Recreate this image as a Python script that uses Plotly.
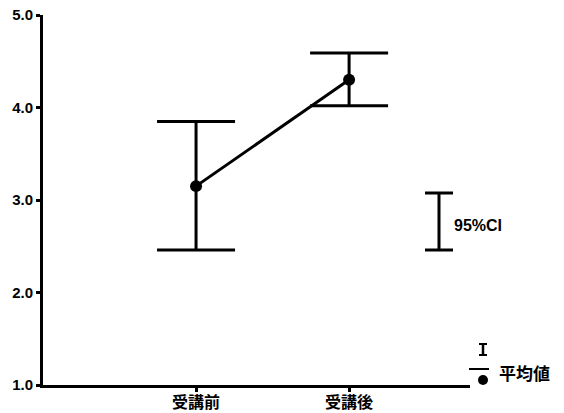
import plotly.graph_objects as go

categories = ["受講前", "受講後"]
x_pos = [0, 1]
means = [3.15, 4.30]
ci_lower = [2.46, 4.02]
ci_upper = [3.85, 4.59]
y_ticks = [1.0, 2.0, 3.0, 4.0, 5.0]
y_tick_labels = ["1.0", "2.0", "3.0", "4.0", "5.0"]

err_plus = [u - m for u, m in zip(ci_upper, means)]
err_minus = [m - l for m, l in zip(means, ci_lower)]

fig = go.Figure()
fig.add_trace(go.Scatter(
    x=x_pos, y=means, mode="lines+markers",
    line=dict(color="black", width=3),
    marker=dict(color="black", size=12),
    error_y=dict(type="data", array=err_plus, arrayminus=err_minus,
                 color="black", thickness=3, width=39, visible=True),
    showlegend=False, cliponaxis=False,
))

L, R, T, B = 43, 94, 15, 28
W, H = 564, 413
pw, ph = W - L - R, H - T - B

def px(x):
    return (x - L) / pw

def py(y):
    return (H - B - y) / ph

shapes = []
line = dict(color="black", width=3)
# 95%CI legend glyph
shapes.append(dict(type="line", xref="paper", yref="paper", x0=px(439), x1=px(439), y0=py(193), y1=py(250), line=line))
shapes.append(dict(type="line", xref="paper", yref="paper", x0=px(425), x1=px(453), y0=py(193), y1=py(193), line=line))
shapes.append(dict(type="line", xref="paper", yref="paper", x0=px(425), x1=px(453), y0=py(250), y1=py(250), line=line))
# mean legend glyph
shapes.append(dict(type="line", xref="paper", yref="paper", x0=px(483), x1=px(483), y0=py(344), y1=py(355), line=dict(color="black", width=2.5)))
shapes.append(dict(type="line", xref="paper", yref="paper", x0=px(479), x1=px(487), y0=py(344), y1=py(344), line=dict(color="black", width=2)))
shapes.append(dict(type="line", xref="paper", yref="paper", x0=px(479), x1=px(487), y0=py(355), y1=py(355), line=dict(color="black", width=2)))
shapes.append(dict(type="line", xref="paper", yref="paper", x0=px(469), x1=px(489), y0=py(369), y1=py(369), line=dict(color="black", width=2)))
shapes.append(dict(type="circle", xref="paper", yref="paper", x0=px(478), x1=px(488), y0=py(375), y1=py(385),
                   fillcolor="black", line=dict(color="black", width=0)))

annotations = [
    dict(text="95%CI", xref="paper", yref="paper", x=px(452), y=py(225), xanchor="left", yanchor="middle",
         showarrow=False, font=dict(family="Liberation Sans", size=16, color="black", weight="bold")),
    dict(text="平均値", xref="paper", yref="paper", x=px(497), y=py(372), xanchor="left", yanchor="middle",
         showarrow=False, font=dict(family="Noto Sans CJK JP", size=17, color="black", weight="bold")),
]
for xv, cat in zip(x_pos, categories):
    annotations.append(dict(text=cat, xref="x", yref="paper", x=xv, y=py(401), xanchor="center",
                            yanchor="middle", showarrow=False,
                            font=dict(family="Noto Sans CJK JP", size=16, color="black", weight="bold")))

fig.update_layout(
    width=W, height=H,
    margin=dict(l=L, r=R, t=T, b=B, pad=0, autoexpand=False),
    paper_bgcolor="white", plot_bgcolor="white",
    shapes=shapes, annotations=annotations,
    xaxis=dict(range=[-1, 1.79], tickvals=x_pos, ticktext=categories, automargin=False,
               showticklabels=False,
               showgrid=False, zeroline=False, showline=True, linecolor="black", linewidth=3,
               ticks="outside", ticklen=4, tickwidth=3, tickcolor="black"),
    yaxis=dict(range=[1, 5], tickvals=y_ticks, ticktext=y_tick_labels, automargin=False,
               showgrid=False, zeroline=False, showline=True, linecolor="black", linewidth=3,
               ticks="outside", ticklen=4, tickwidth=3, tickcolor="black",
               tickfont=dict(family="Liberation Sans", size=15, color="black", weight="bold")),
)

fig.write_html("out.html", config={"displayModeBar": False},
               post_script="document.body.style.margin='0';document.body.style.padding='0';")
